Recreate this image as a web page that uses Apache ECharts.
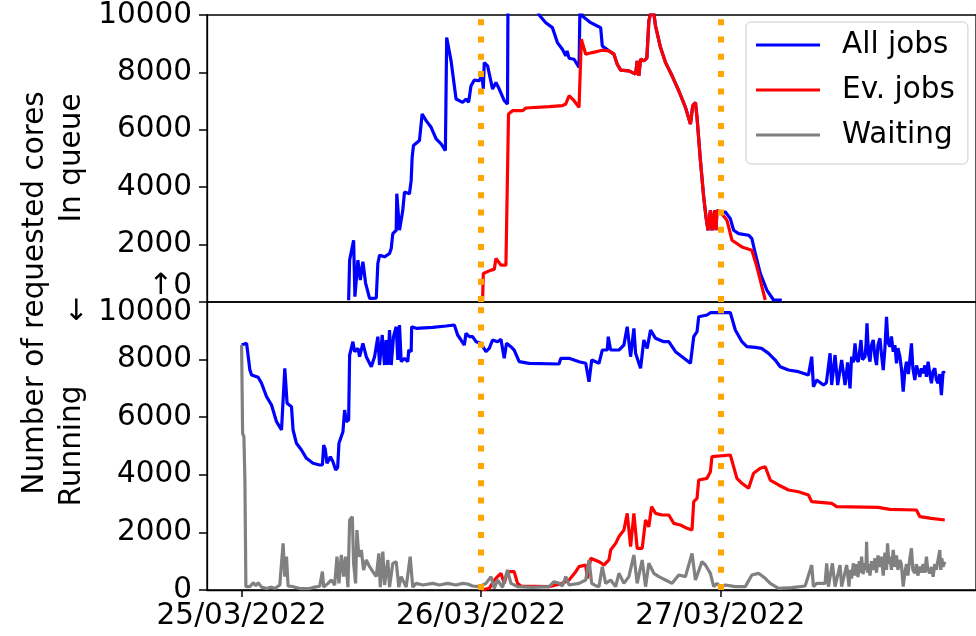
<!DOCTYPE html>
<html>
<head>
<meta charset="utf-8">
<script src="https://cdn.jsdelivr.net/npm/echarts@6/dist/echarts.min.js"></script>
<style>
html,body{margin:0;padding:0;background:#fff;}
#chart{width:976px;height:636px;}
</style>
</head>
<body>
<div id="chart"></div>
<script>
// ---- DATA (x = hours since 25/03/2022 00:00, y = requested cores) ----
var xTickHours = [0, 24, 48];
var xTickLabels = ['25/03/2022', '26/03/2022', '27/03/2022'];
var markerHours = [24, 48];
var topTickLabels = ['↑0', '2000', '4000', '6000', '8000', '10000'];
var bottomTickLabels = ['0', '2000', '4000', '6000', '8000', '↓ 10000'];
var seriesNames = ['All jobs', 'Ev. jobs', 'Waiting'];

// In queue – all jobs
var queueAll = [
[10.73,60],[10.83,1458],[11.23,2150],[11.36,185],[11.66,1458],[11.90,764],[12.16,1400],[12.43,660],
[12.83,127],[13.50,130],[13.66,1343],[13.83,1632],[14.33,1574],[14.83,1690],[15.00,1864],[15.16,2385],
[15.50,2500],[15.56,3774],[15.83,2500],[16.16,3194],[16.33,3830],[16.83,3774],[17.00,4236],[17.10,5045],
[17.23,5451],[17.83,5625],[18.10,6551],[18.50,6319],[19.00,6087],[19.50,5683],[20.00,5510],[20.43,5277],
[20.56,9212],[21.00,8402],[21.50,7072],[22.16,6955],[22.50,7072],[22.76,6955],[23.00,7534],[23.33,7732],
[23.83,7708],[24.10,7916],[24.23,7420],[24.33,8343],[24.66,8229],[25.16,7420],[25.50,7649],[25.83,7420],
[26.33,7014],[26.66,6899],[26.73,12500],[27.83,12000],[28.83,11000],[29.83,10000],[30.50,9732],[31.16,9560],
[31.66,9038],[32.16,8808],[32.50,8576],[32.63,8750],[32.83,8495],[33.33,8460],[33.83,8170],[33.93,10400],
[34.16,9965],[35.00,9732],[35.66,9617],[36.00,9560],[36.16,8923],[36.83,8750],[37.33,8634],[37.66,8287],
[38.00,8078],[38.83,8055],[39.50,7940],[39.66,8402],[39.83,7881],[40.00,8460],[40.33,8402],[40.63,8500],
[40.83,9791],[41.00,10050],[41.33,10050],[41.50,9617],[42.00,8866],[42.50,8343],[43.16,7881],[43.83,7361],
[44.50,6781],[45.00,6204],[45.23,6840],[45.50,6955],[45.66,6434],[46.00,4930],[46.33,3656],[46.56,2962],
[46.76,2500],[47.00,3194],[47.16,2500],[47.43,3194],[47.56,2500],[47.66,3194],[48.00,3135],[48.50,3135],
[49.00,2906],[49.33,2500],[49.83,2385],[50.83,2326],[51.16,2211],[51.50,1690],[52.00,996],[52.66,417],
[53.33,70],[54.16,70]
];
// In queue – Ev. jobs
var queueEv = [
[24.16,0],[24.23,996],[25.00,1111],[25.33,1135],[25.50,1517],[26.00,1285],[26.50,1285],[26.76,6551],
[27.16,6666],[28.16,6666],[28.50,6760],[30.83,6805],[32.16,6840],[32.50,6899],[32.83,7187],[33.33,7014],
[33.83,6781],[34.00,6725],[34.06,9154],[34.50,8634],[35.16,8691],[36.16,8773],[36.83,8750],[37.33,8634],
[37.66,8287],[38.00,8078],[38.83,8055],[39.50,7940],[39.66,8402],[39.83,7881],[40.00,8460],[40.33,8402],
[40.63,8500],[40.83,9791],[41.00,10050],[41.33,10050],[41.50,9617],[42.00,8866],[42.50,8343],[43.16,7881],
[43.83,7361],[44.50,6781],[45.00,6204],[45.23,6840],[45.50,6955],[45.66,6434],[46.00,4930],[46.33,3656],
[46.56,2962],[46.76,2500],[47.00,3194],[47.16,2500],[47.43,3194],[47.56,2500],[47.66,3194],[48.00,3135],
[48.16,3135],[48.66,2847],[48.83,2614],[49.16,2153],[50.16,1920],[51.16,1805],[51.66,1226],[52.00,764],
[52.50,70]
];
// Running – all jobs
var runAll = [
[0.00,8507],[0.50,8565],[0.83,7638],[1.00,7465],[1.66,7385],[2.00,7177],[2.50,6712],[3.00,6423],
[3.50,5844],[4.00,5555],[4.33,7697],[4.56,6482],[5.00,6365],[5.16,5555],[5.50,5093],[6.00,4861],
[6.50,4572],[7.16,4399],[7.83,4340],[8.10,4340],[8.23,5034],[8.38,4900],[8.56,4399],[8.90,4628],
[9.16,4455],[9.43,4166],[9.63,4250],[9.76,5093],[10.16,5496],[10.33,6250],[10.50,5844],[10.73,5902],
[10.83,8159],[11.16,8621],[11.33,8274],[11.66,8391],[11.83,8101],[12.16,8565],[12.50,8101],[13.00,7753],
[13.33,8101],[13.66,8795],[13.83,7812],[14.10,8854],[14.33,7812],[14.50,8680],[14.66,7812],[14.83,9027],
[15.00,7812],[15.23,8795],[15.50,9142],[15.66,7985],[15.83,9201],[16.00,7927],[16.33,8044],[16.66,7927],
[16.76,8333],[17.00,8274],[17.05,9142],[17.50,9086],[19.16,9120],[20.50,9166],[21.33,9201],[21.66,8854],
[22.00,8680],[22.33,8507],[22.50,8912],[22.83,8795],[23.16,8795],[23.50,8621],[24.00,8565],[24.50,8274],
[24.83,8391],[25.16,8680],[25.66,8621],[26.00,8705],[26.33,8044],[26.56,8565],[27.00,8448],[27.33,8333],
[27.83,7927],[28.83,7871],[31.83,7847],[32.00,8044],[32.83,8044],[33.83,7927],[34.50,7871],[34.83,7232],
[35.10,7985],[35.83,7871],[36.16,8333],[36.66,8333],[36.76,8795],[37.00,8333],[37.83,8333],[38.33,8507],
[38.66,9142],[39.00,8101],[39.33,9086],[39.50,8218],[40.00,7697],[40.33,8680],[40.66,8391],[41.00,9027],
[41.50,8739],[42.33,8621],[42.83,8621],[43.50,8274],[44.16,8101],[45.00,7871],[45.33,8795],[45.66,8968],
[45.83,9489],[46.66,9548],[47.00,9628],[49.00,9628],[49.50,9027],[50.16,8621],[50.66,8448],[51.50,8426],
[52.13,8390],[52.83,8218],[53.50,7985],[54.00,7753],[54.83,7638],[55.83,7580],[56.83,7465],[57.16,8101],
[57.33,7059],[57.66,7291],[58.33,7118],[58.63,7200],[59.00,8218],[59.16,7118],[59.50,8159],[59.76,7118],
[60.16,7985],[60.50,7118],[60.76,7900],[61.00,7000],[61.16,8101],[61.33,7900],[61.50,8565],[61.66,8000],
[61.83,7927],[62.00,8400],[62.10,8680],[62.25,8000],[62.50,8101],[62.60,8500],[62.70,9259],[62.85,8200],
[63.00,7927],[63.15,8500],[63.33,8680],[63.50,8100],[63.66,7812],[63.80,8500],[64.00,8739],[64.15,8200],
[64.33,7638],[64.50,8400],[64.66,9489],[64.80,8600],[65.00,8448],[65.15,8800],[65.33,8274],[65.50,8500],
[65.66,7871],[65.80,8400],[66.00,8101],[66.15,7700],[66.33,6885],[66.50,7600],[66.66,7927],[66.85,7500],
[67.00,8000],[67.16,8565],[67.30,7700],[67.50,7291],[67.66,7800],[67.83,7750],[68.00,7400],[68.16,7700],
[68.33,7523],[68.50,7800],[68.66,7400],[68.83,7927],[69.00,7500],[69.16,7177],[69.33,7600],[69.50,7700],
[69.66,7300],[69.83,7177],[70.00,7500],[70.16,6770],[70.33,7580],[70.50,7523]
];
// Running – Ev. jobs
var runEv = [
[24.03,0],[24.83,59],[25.33,347],[25.66,463],[26.00,579],[26.33,231],[26.66,637],[27.33,637],
[27.66,231],[28.00,139],[30.83,116],[31.50,174],[32.16,231],[32.83,347],[33.50,637],[33.83,810],
[34.50,868],[34.66,400],[35.00,1100],[35.83,984],[36.33,868],[36.83,1042],[37.00,1389],[37.50,1620],
[37.83,1852],[38.33,2083],[38.66,2662],[39.00,1505],[39.33,2662],[39.66,1447],[40.16,1447],[40.50,2430],
[40.83,2199],[41.10,2893],[41.50,2662],[42.16,2604],[42.83,2604],[43.33,2315],[44.00,2257],[44.66,2141],
[45.16,2083],[45.33,3066],[45.66,3183],[45.83,3819],[46.66,3878],[47.00,4108],[47.16,4628],[49.00,4687],
[49.66,3878],[50.16,3705],[50.83,3531],[51.33,4052],[52.00,4225],[52.50,4281],[53.00,3819],[53.83,3646],
[54.83,3472],[55.83,3413],[56.83,3298],[57.16,3066],[59.16,3010],[59.66,2893],[63.83,2871],[65.00,2802],
[67.66,2778],[68.00,2545],[69.16,2489],[70.50,2430]
];
// Running – waiting
var runWait = [
[0.00,8507],[0.10,5440],[0.23,5324],[0.33,3819],[0.43,116],[0.83,116],[1.16,255],[1.43,150],
[1.66,255],[2.00,100],[2.50,50],[3.00,100],[3.33,50],[3.83,174],[4.16,1620],[4.33,463],
[4.50,1157],[4.66,130],[5.00,130],[5.83,50],[6.83,50],[7.33,100],[7.83,130],[8.10,637],
[8.23,100],[8.66,231],[9.00,347],[9.33,170],[9.56,1157],[9.76,231],[10.00,1215],[10.23,463],
[10.43,1157],[10.66,100],[10.83,2430],[11.10,2545],[11.23,926],[11.43,231],[11.56,2083],[11.76,1157],
[12.00,1389],[12.23,694],[12.50,1042],[12.83,810],[13.16,637],[13.50,463],[13.76,1273],[13.90,100],
[14.16,1331],[14.33,174],[14.66,1042],[14.83,100],[15.16,926],[15.50,984],[15.76,100],[16.00,463],
[16.50,100],[16.90,1157],[17.16,100],[17.50,231],[18.16,174],[19.16,231],[19.83,174],[20.66,231],
[21.50,174],[22.16,231],[22.66,208],[23.16,139],[23.83,116],[24.50,231],[25.00,463],[25.33,58],
[25.66,347],[26.16,93],[26.66,694],[27.00,231],[27.66,116],[29.16,93],[30.83,116],[31.33,289],
[31.83,231],[32.16,139],[32.50,463],[32.83,174],[33.83,231],[34.50,347],[34.83,1042],[35.10,231],
[35.50,150],[35.83,116],[36.16,810],[36.50,231],[37.00,347],[37.50,116],[37.83,579],[38.33,231],
[38.83,463],[39.33,1215],[39.66,231],[40.16,1042],[40.50,116],[40.83,926],[41.33,579],[41.83,463],
[42.50,347],[43.16,231],[43.83,521],[44.50,463],[45.16,1273],[45.50,347],[46.16,984],[46.50,868],
[47.00,579],[47.33,116],[47.66,231],[48.00,116],[48.50,174],[49.50,116],[50.50,116],[51.16,521],
[51.83,579],[52.50,405],[53.00,231],[53.83,58],[55.16,81],[56.50,139],[57.16,868],[57.33,116],
[57.66,231],[57.83,231],[58.50,231],[58.66,926],[58.83,116],[59.23,926],[59.50,116],[60.00,868],
[60.16,116],[60.66,868],[60.90,116],[61.00,700],[61.15,400],[61.33,926],[61.50,500],[61.63,900],
[61.80,450],[61.93,1000],[62.05,600],[62.16,1157],[62.30,550],[62.50,926],[62.60,700],[62.66,1678],
[62.75,600],[62.83,900],[63.00,500],[63.15,1000],[63.33,700],[63.50,1100],[63.66,600],[63.80,1200],
[64.00,800],[64.15,1157],[64.33,500],[64.50,1300],[64.66,700],[64.76,1620],[64.90,900],[65.00,1157],
[65.15,700],[65.33,1389],[65.50,800],[65.66,1200],[65.80,700],[66.00,1042],[66.15,900],[66.33,116],
[66.50,600],[66.66,900],[66.80,500],[67.00,1100],[67.16,1447],[67.30,700],[67.50,579],[67.66,900],
[67.80,500],[68.00,810],[68.15,600],[68.33,900],[68.50,600],[68.66,1157],[68.80,700],[69.00,579],
[69.16,800],[69.33,463],[69.50,900],[69.66,700],[69.80,1000],[70.00,1389],[70.10,700],[70.20,1100],
[70.33,810],[70.50,984]
];

// ---- LAYOUT / STYLE ----
var FONT = 'DejaVu Sans';
var FS = 29.5;
var LEFT = 207, TOP = 14, PANEL_H = 288, RIGHT = -2;
var XMIN = (LEFT - 241.7) / 10;
var XMAX = (976 - RIGHT - 241.7) / 10;
var BLUE = '#0000ff', RED = '#ff0000', GRAY = '#808080', ORANGE = '#ffa500';

var chart = echarts.init(document.getElementById('chart'), null, {renderer: 'canvas'});

function lineSeries(name, data, idx, color) {
  return {
    name: name, type: 'line', data: data,
    xAxisIndex: idx, yAxisIndex: idx,
    showSymbol: false, symbol: 'none',
    lineStyle: {color: color, width: 3.2},
    itemStyle: {color: color},
    clip: true, animation: false
  };
}
function makeMarker() {
  return {
    silent: true, symbol: ['none', 'none'], label: {show: false},
    lineStyle: {color: ORANGE, width: 6, type: [6, 11.3], opacity: 1},
    emphasis: {disabled: true},
    data: markerHours.map(function (h) { return {xAxis: h}; })
  };
}
function axisLineOpt() { return {show: true, onZero: false, lineStyle: {color: '#000', width: 1.3}}; }
function tickOpt(extra) {
  var o = {show: true, length: 8, lineStyle: {color: '#000', width: 1.5}};
  if (extra) { for (var k in extra) o[k] = extra[k]; }
  return o;
}

var s1 = lineSeries(seriesNames[0], queueAll, 0, BLUE);
var s2 = lineSeries(seriesNames[1], queueEv, 0, RED);
s2.markLine = makeMarker();
var s3 = lineSeries(seriesNames[0], runAll, 1, BLUE);
var s4 = lineSeries(seriesNames[1], runEv, 1, RED);
var s5 = lineSeries(seriesNames[2], runWait, 1, GRAY);
s5.markLine = makeMarker();

var option = {
  animation: false,
  textStyle: {fontFamily: FONT},
  grid: [
    {left: LEFT, right: RIGHT, top: TOP, height: PANEL_H, show: true, borderColor: '#000', borderWidth: 1.3, backgroundColor: 'transparent'},
    {left: LEFT, right: RIGHT, top: TOP + PANEL_H, height: PANEL_H, show: true, borderColor: '#000', borderWidth: 1.3, backgroundColor: 'transparent'}
  ],
  xAxis: [
    {gridIndex: 0, type: 'value', min: XMIN, max: XMAX, show: false, splitLine: {show: false}, axisLine: {onZero: false}},
    {gridIndex: 1, type: 'value', min: XMIN, max: XMAX, position: 'bottom',
      axisLine: axisLineOpt(), splitLine: {show: false},
      axisTick: tickOpt({length: 7, customValues: xTickHours}),
      axisLabel: {fontSize: FS, fontFamily: FONT, color: '#000', margin: 11, customValues: xTickHours,
        formatter: function (v) { var i = xTickHours.indexOf(v); return i >= 0 ? xTickLabels[i] : ''; }}
    }
  ],
  yAxis: [
    {gridIndex: 0, type: 'value', min: 0, max: 10000, interval: 2000, position: 'left',
      axisLine: axisLineOpt(), splitLine: {show: false}, axisTick: tickOpt(),
      axisLabel: {fontSize: FS, fontFamily: FONT, color: '#000', margin: 15,
        formatter: function (v) {
          var s = topTickLabels[Math.round(v / 2000)];
          return v === 0 ? '{up|' + s + '}' : s;
        },
        rich: {up: {fontSize: FS, fontFamily: FONT, color: '#000', lineHeight: 34, padding: [0, 0, 32, 0]}}
      }
    },
    {gridIndex: 1, type: 'value', min: 0, max: 10000, interval: 2000, position: 'left',
      axisLine: axisLineOpt(), splitLine: {show: false}, axisTick: tickOpt(),
      axisLabel: {fontSize: FS, fontFamily: FONT, color: '#000', margin: 15,
        formatter: function (v) {
          var s = bottomTickLabels[Math.round(v / 2000)];
          return v === 10000 ? '{dn|' + s + '}' : s;
        },
        rich: {dn: {fontSize: FS, fontFamily: FONT, color: '#000', lineHeight: 34, padding: [21, 0, 0, 0]}}
      }
    }
  ],
  legend: {
    data: seriesNames,
    orient: 'vertical', left: 746, top: 22,
    itemWidth: 64, itemHeight: 3, itemGap: 11,
    padding: [6, 13, 12, 10],
    backgroundColor: 'rgba(255,255,255,0.8)',
    borderColor: '#cccccc', borderWidth: 1, borderRadius: 5,
    icon: 'rect',
    itemStyle: {borderWidth: 0},
    selectedMode: false,
    textStyle: {fontSize: FS, fontFamily: FONT, color: '#000', lineHeight: 34, padding: [0, 0, 0, 17]}
  },
  graphic: [
    {type: 'text', x: 35, y: 293, rotation: Math.PI / 2,
      style: {text: 'Number of requested cores', font: FS + 'px "' + FONT + '"', fill: '#000', textAlign: 'center', textVerticalAlign: 'middle'}},
    {type: 'text', x: 72, y: 158, rotation: Math.PI / 2,
      style: {text: 'In queue', font: FS + 'px "' + FONT + '"', fill: '#000', textAlign: 'center', textVerticalAlign: 'middle'}},
    {type: 'text', x: 72, y: 446, rotation: Math.PI / 2,
      style: {text: 'Running', font: FS + 'px "' + FONT + '"', fill: '#000', textAlign: 'center', textVerticalAlign: 'middle'}}
  ],
  series: [s1, s2, s3, s4, s5]
};
chart.setOption(option);
</script>
</body>
</html>
